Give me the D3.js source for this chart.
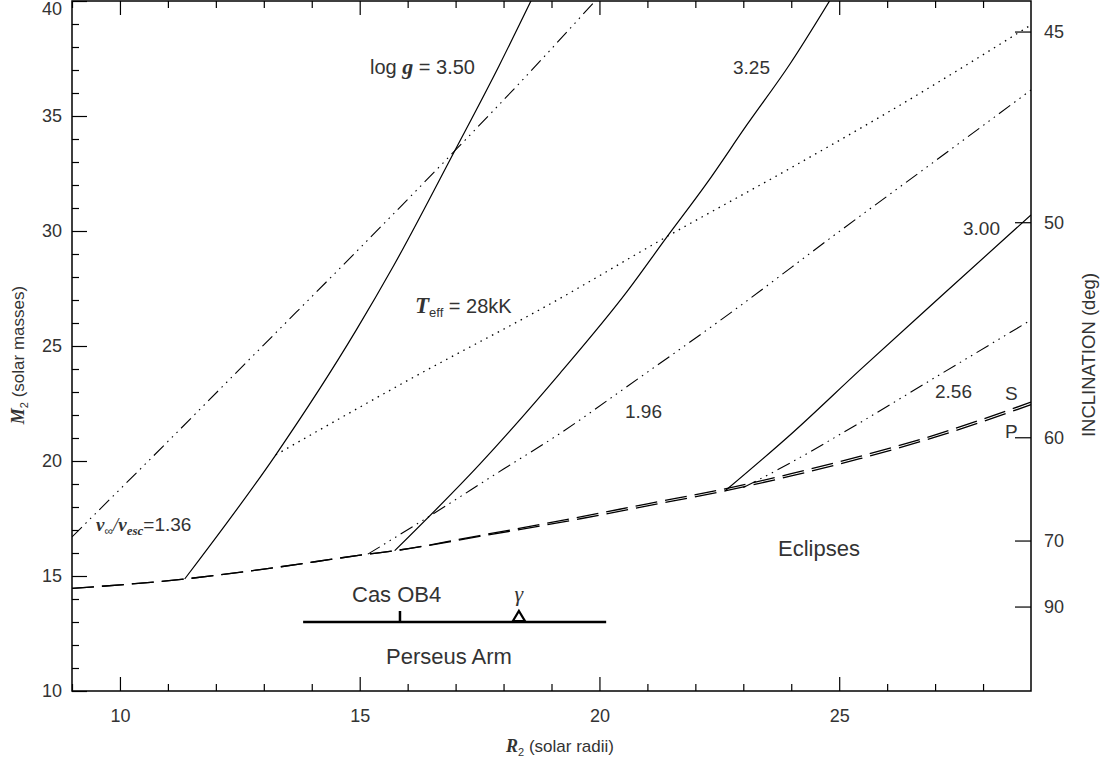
<!DOCTYPE html>
<html>
<head>
<meta charset="utf-8">
<script src="https://cdn.jsdelivr.net/npm/d3@7"></script>
<style>
body { margin: 0; background: #fff; }
text { font-family: "Liberation Sans", Arial, sans-serif; fill: #333; }
.serif { font-family: "Liberation Serif", "DejaVu Serif", serif; }
</style>
</head>
<body>
<script>
const width = 1100, height = 763;

// axis ticks
const xMajor = [10, 15, 20, 25];
const xMinor = [9, 11, 12, 13, 14, 16, 17, 18, 19, 21, 22, 23, 24, 26, 27, 28];
const yMajor = [10, 15, 20, 25, 30, 35, 40];
const yMinor = [11, 12, 13, 14, 16, 17, 18, 19, 21, 22, 23, 24, 26, 27, 28, 29, 31, 32, 33, 34, 36, 37, 38, 39];
const incTicks = [45, 50, 60, 70, 90];
const incMass = [38.65, 30.36, 21.01, 16.52, 13.65];

// eclipse limits (P = primary, S = secondary)
const eclR = [9, 11.35, 13, 15.17, 15.73, 17.5, 19.63, 21, 22.62, 24, 25.43, 27.1, 29];
const eclP = [14.46, 14.87, 15.3, 15.95, 16.1, 16.72, 17.5, 18.05, 18.7, 19.35, 20.1, 21.1, 22.45];
const eclS = [14.46, 14.87, 15.3, 15.95, 16.1, 16.76, 17.58, 18.14, 18.79, 19.45, 20.2, 21.2, 22.56];

// log g curves
const g350R = [11.35, 13.25, 14.93, 15.71, 16.98, 17.91, 18.58];
const g350M = [14.87, 20.27, 25.7, 28.5, 33.48, 37.2, 40.04];
const g325R = [15.73, 17.5, 19.18, 20.57, 21.4, 22.24, 23.07, 23.97, 24.81];
const g325M = [16.1, 19.85, 23.82, 27.35, 29.72, 32.08, 34.6, 37.25, 40.04];
const g300R = [22.62, 24.04, 25.43, 27.17, 29];
const g300M = [18.7, 21.25, 23.95, 27.25, 30.7];

// v_inf / v_esc curves
const v136R = [9, 11, 13, 15, 16.98, 18.5, 19.91];
const v136M = [16.7, 20.85, 25.05, 29.25, 33.48, 36.8, 40.0];
const v196R = [15.17, 16.34, 18, 19.18, 20.57, 22.72, 24.95, 27.03, 29];
const v196M = [15.95, 17.45, 19.65, 21.2, 23.23, 26.42, 29.9, 33.09, 36.13];
const v256R = [23.0, 23.7, 25.29, 27.03, 29];
const v256M = [18.85, 19.6, 21.49, 23.67, 26.13];

// Teff = 28 kK
const teffR = [13.25, 16, 19.18, 21.4, 24.04, 26.13, 29];
const teffM = [20.27, 23.5, 27.07, 29.75, 32.8, 35.3, 38.96];

// Perseus arm
const armR = [13.82, 20.14];
const armM = 13.0;
const casOB4R = 15.84;
const gammaR = 18.32;

const margin = {left: 72, right: 69, top: 1, bottom: 72};
const x = d3.scaleLinear().domain([9, 29]).range([margin.left, width - margin.right]);
const y = d3.scaleLinear().domain([10, 40]).range([height - margin.bottom, margin.top]);

const svg = d3.select("body").append("svg").attr("width", width).attr("height", height);

svg.append("clipPath").attr("id", "plot")
  .append("rect").attr("x", x(9)).attr("y", y(40)).attr("width", x(29) - x(9)).attr("height", y(10) - y(40));

const line = d3.line().x(d => x(d[0])).y(d => y(d[1])).curve(d3.curveMonotoneX);
const zip = (a, b) => a.map((v, i) => [v, b[i]]);

const curves = svg.append("g").attr("clip-path", "url(#plot)")
  .attr("fill", "none").attr("stroke", "#000");

const dash3dot = "14,5,1.5,5,1.5,5,1.5,5";
const series = [
  {pts: zip(eclR, eclP), dash: "22,8", w: 1.3},
  {pts: zip(eclR, eclS), dash: "22,8", w: 1.3},
  {pts: zip(g350R, g350M), dash: null, w: 1.2},
  {pts: zip(g325R, g325M), dash: null, w: 1.2},
  {pts: zip(g300R, g300M), dash: null, w: 1.2},
  {pts: zip(v136R, v136M), dash: dash3dot, w: 1.1},
  {pts: zip(v196R, v196M), dash: dash3dot, w: 1.1},
  {pts: zip(v256R, v256M), dash: dash3dot, w: 1.1},
  {pts: zip(teffR, teffM), dash: "1.5,5", w: 1.3}
];
curves.selectAll("path").data(series).enter().append("path")
  .attr("d", d => line(d.pts))
  .attr("stroke-width", d => d.w)
  .attr("stroke-dasharray", d => d.dash);

// axes
function styleAxis(g) {
  g.select(".domain").remove();
  g.selectAll("line").attr("stroke", "#000").attr("stroke-width", 1.2);
  g.selectAll("text").attr("font-size", 18).attr("fill", "#333");
}
svg.append("g").attr("transform", `translate(0,${y(10)})`)
  .call(d3.axisBottom(x).tickValues(xMajor).tickSize(-14).tickPadding(18).tickFormat(d3.format("d"))).call(styleAxis);
svg.append("g").attr("transform", `translate(0,${y(10)})`)
  .call(d3.axisBottom(x).tickValues(xMinor).tickSize(-7).tickFormat("")).call(styleAxis);
svg.append("g").attr("transform", `translate(0,${y(40)})`)
  .call(d3.axisTop(x).tickValues(xMajor).tickSize(-14).tickFormat("")).call(styleAxis);
svg.append("g").attr("transform", `translate(0,${y(40)})`)
  .call(d3.axisTop(x).tickValues(xMinor).tickSize(-7).tickFormat("")).call(styleAxis);
const leftAxis = svg.append("g").attr("transform", `translate(${x(9)},0)`)
  .call(d3.axisLeft(y).tickValues(yMajor).tickSize(-15).tickPadding(10).tickFormat(d3.format("d"))).call(styleAxis);
// keep the top label inside the picture
leftAxis.selectAll(".tick text").filter(d => d === 40).attr("dy", "0.75em");
svg.append("g").attr("transform", `translate(${x(9)},0)`)
  .call(d3.axisLeft(y).tickValues(yMinor).tickSize(-7).tickFormat("")).call(styleAxis);

const incScale = d3.scaleOrdinal().domain(incTicks).range(incMass.map(m => y(m)));
const right = svg.append("g").attr("transform", `translate(${x(29)},0)`);
incTicks.forEach((t, i) => {
  right.append("line").attr("x1", 0).attr("x2", -16)
    .attr("y1", incScale(t)).attr("y2", incScale(t)).attr("stroke", "#000").attr("stroke-width", 1.2);
  right.append("text").attr("x", 13).attr("y", incScale(t)).attr("dy", "0.35em")
    .attr("font-size", 18).text(t);
});

svg.append("rect").attr("x", x(9)).attr("y", y(40)).attr("width", x(29) - x(9)).attr("height", y(10) - y(40))
  .attr("fill", "none").attr("stroke", "#000").attr("stroke-width", 1.5);

// axis titles
const xt = svg.append("text").attr("x", 560).attr("y", 752).attr("text-anchor", "middle").attr("font-size", 17);
xt.append("tspan").attr("class", "serif").attr("font-style", "italic").attr("font-weight", "bold").attr("font-size", 18).text("R");
xt.append("tspan").attr("font-size", 11).attr("dy", 4).text("2");
xt.append("tspan").attr("dy", -4).text(" (solar radii)");

const yt = svg.append("text").attr("transform", "translate(24,355) rotate(-90)").attr("text-anchor", "middle").attr("font-size", 17);
yt.append("tspan").attr("class", "serif").attr("font-style", "italic").attr("font-weight", "bold").attr("font-size", 18).text("M");
yt.append("tspan").attr("font-size", 11).attr("dy", 4).text("2");
yt.append("tspan").attr("dy", -4).text(" (solar masses)");

svg.append("text").attr("transform", "translate(1095,355) rotate(-90)").attr("text-anchor", "middle")
  .attr("font-size", 18.5).text("INCLINATION (deg)");

// curve labels
function label(px, py, txt, size) {
  return svg.append("text").attr("x", px).attr("y", py).attr("font-size", size || 19).text(txt);
}
const lg = svg.append("text").attr("x", 370).attr("y", 74).attr("font-size", 20);
lg.append("tspan").text("log ");
lg.append("tspan").attr("class", "serif").attr("font-style", "italic").attr("font-weight", "bold").attr("font-size", 22).text("g");
lg.append("tspan").text(" = 3.50");
label(733, 74, "3.25");
label(963, 235, "3.00");
label(625, 418, "1.96");
label(935, 398, "2.56");
label(1005, 400, "S");
label(1005, 438, "P");

const te = svg.append("text").attr("x", 415).attr("y", 313).attr("font-size", 20);
te.append("tspan").attr("class", "serif").attr("font-style", "italic").attr("font-weight", "bold").attr("font-size", 23).text("T");
te.append("tspan").attr("font-size", 13).attr("dy", 4).text("eff");
te.append("tspan").attr("dy", -4).text(" = 28kK");

const vl = svg.append("text").attr("x", 96).attr("y", 531).attr("font-size", 19);
vl.append("tspan").attr("class", "serif").attr("font-style", "italic").attr("font-weight", "bold").attr("font-size", 19).text("v");
vl.append("tspan").attr("font-size", 12).attr("dy", 4).text("∞");
vl.append("tspan").attr("class", "serif").attr("font-style", "italic").attr("dy", -4).text("/");
vl.append("tspan").attr("class", "serif").attr("font-style", "italic").attr("font-weight", "bold").text("v");
vl.append("tspan").attr("class", "serif").attr("font-style", "italic").attr("font-weight", "bold").attr("font-size", 13).attr("dy", 4).text("esc");
vl.append("tspan").attr("dy", -4).text("=1.36");

label(778, 556, "Eclipses", 22);
label(352, 602, "Cas OB4", 22);
label(386, 664, "Perseus Arm", 22);
svg.append("text").attr("class", "serif").attr("x", x(gammaR)).attr("y", 601).attr("text-anchor", "middle")
  .attr("font-style", "italic").attr("font-size", 22).text("γ");

// Perseus arm marker
const arm = svg.append("g").attr("stroke", "#000").attr("stroke-width", 2.5).attr("fill", "#fff");
arm.append("line").attr("x1", x(armR[0])).attr("x2", x(armR[1])).attr("y1", y(armM)).attr("y2", y(armM));
arm.append("line").attr("x1", x(casOB4R)).attr("x2", x(casOB4R)).attr("y1", y(armM)).attr("y2", y(armM) - 11);
arm.append("path").attr("stroke-width", 2.2)
  .attr("d", `M${x(gammaR) - 6},${y(armM) - 1}L${x(gammaR)},${y(armM) - 11}L${x(gammaR) + 6},${y(armM) - 1}Z`);
</script>
</body>
</html>
